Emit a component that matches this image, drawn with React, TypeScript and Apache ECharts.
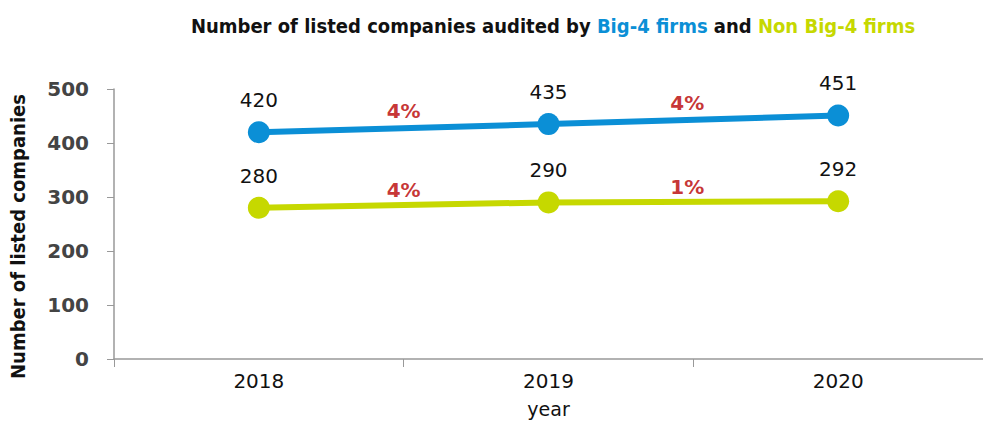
import React, { useEffect, useRef } from "react";
import * as echarts from "echarts";

const years = ["2018", "2019", "2020"];
const big4 = [420, 435, 451];
const nonBig4 = [280, 290, 292];
const big4Growth = ["4%", "4%"];
const nonBig4Growth = ["4%", "1%"];
const yTicks = [0, 100, 200, 300, 400, 500];

const BLUE = "#0b8fd6";
const GREEN = "#c6d800";
const RED = "#b80000";

export default function App() {
  const ref = useRef<HTMLDivElement>(null);
  useEffect(() => {
    if (!ref.current) return;
    const chart = echarts.init(ref.current, undefined, { renderer: "svg" });
    const growthPoints = (vals: number[], labels: string[]) =>
      labels.map((l, i) => ({
        value: [i + 1, (vals[i] + vals[i + 1]) / 2],
        label: { formatter: l, offset: [i === 0 ? 0 : -6, 0] },
      }));
    const titleFont = { fontFamily: "DejaVu Sans Condensed", fontWeight: "bold", fontSize: 20 };
    chart.setOption({
      animation: false,
      backgroundColor: "#ffffff",
      title: {
        text: "{a|Number of listed companies audited by }{b|Big-4 firms}{a| and }{c|Non Big-4 firms}",
        left: 548,
        textAlign: "center",
        top: 11,
        textStyle: {
          rich: {
            a: { ...titleFont, color: "#111111" },
            b: { ...titleFont, color: BLUE },
            c: { ...titleFont, color: GREEN },
          },
        },
      },
      grid: { left: 114, right: -5, top: 89, bottom: 64, containLabel: false },
      xAxis: [
        {
          type: "category",
          data: years,
          boundaryGap: true,
          name: "year",
          nameLocation: "middle",
          nameGap: 40,
          nameTextStyle: { fontFamily: "DejaVu Sans", fontSize: 19, color: "#111111" },
          axisLine: { lineStyle: { color: "#999999", width: 1.5 } },
          axisTick: { show: true, length: 8, lineStyle: { color: "#999999" } },
          axisLabel: { fontFamily: "DejaVu Sans", fontSize: 20, color: "#111111", margin: 12 },
        },
        { type: "value", min: 0, max: 3, show: false },
      ],
      yAxis: {
        type: "value",
        min: 0,
        max: 500,
        interval: 100,
        name: "Number of listed companies",
        nameLocation: "middle",
        nameGap: 86,
        nameTextStyle: {
          fontFamily: "DejaVu Sans Condensed",
          fontWeight: "bold",
          fontSize: 20,
          color: "#111111",
          padding: [0, 25, 0, 0],
        },
        axisLine: { show: true, lineStyle: { color: "#999999", width: 1.5 } },
        axisTick: { show: true, length: 7, lineStyle: { color: "#999999" } },
        splitLine: { show: false },
        axisLabel: {
          fontFamily: "DejaVu Sans",
          fontWeight: "bold",
          fontSize: 20,
          color: "#444444",
          margin: 25,
          padding: [0, 0, 4, 0],
          formatter: (v: number) => (yTicks.includes(v) ? String(v) : ""),
        },
      },
      series: [
        {
          name: "Big-4 firms",
          type: "line",
          data: big4,
          symbol: "circle",
          symbolSize: 22,
          lineStyle: { color: BLUE, width: 6 },
          itemStyle: { color: BLUE },
          label: { show: true, position: "top", distance: 11, fontFamily: "DejaVu Sans", fontSize: 20, color: "#111111" },
        },
        {
          name: "Non Big-4 firms",
          type: "line",
          data: nonBig4,
          symbol: "circle",
          symbolSize: 22,
          lineStyle: { color: GREEN, width: 6 },
          itemStyle: { color: GREEN },
          label: { show: true, position: "top", distance: 11, fontFamily: "DejaVu Sans", fontSize: 20, color: "#111111" },
        },
        {
          type: "scatter",
          xAxisIndex: 1,
          symbolSize: 0,
          data: growthPoints(big4, big4Growth),
          label: { show: true, position: "top", distance: 7, fontFamily: "DejaVu Sans", fontWeight: "bold", fontSize: 20, color: RED },
          z: 5,
        },
        {
          type: "scatter",
          xAxisIndex: 1,
          symbolSize: 0,
          data: growthPoints(nonBig4, nonBig4Growth),
          label: { show: true, position: "top", distance: 5, fontFamily: "DejaVu Sans", fontWeight: "bold", fontSize: 20, color: RED },
          z: 5,
        },
      ],
    });
    return () => chart.dispose();
  }, []);
  return <div ref={ref} style={{ width: 983, height: 423, position: "absolute", left: 0, top: 0 }} />;
}
